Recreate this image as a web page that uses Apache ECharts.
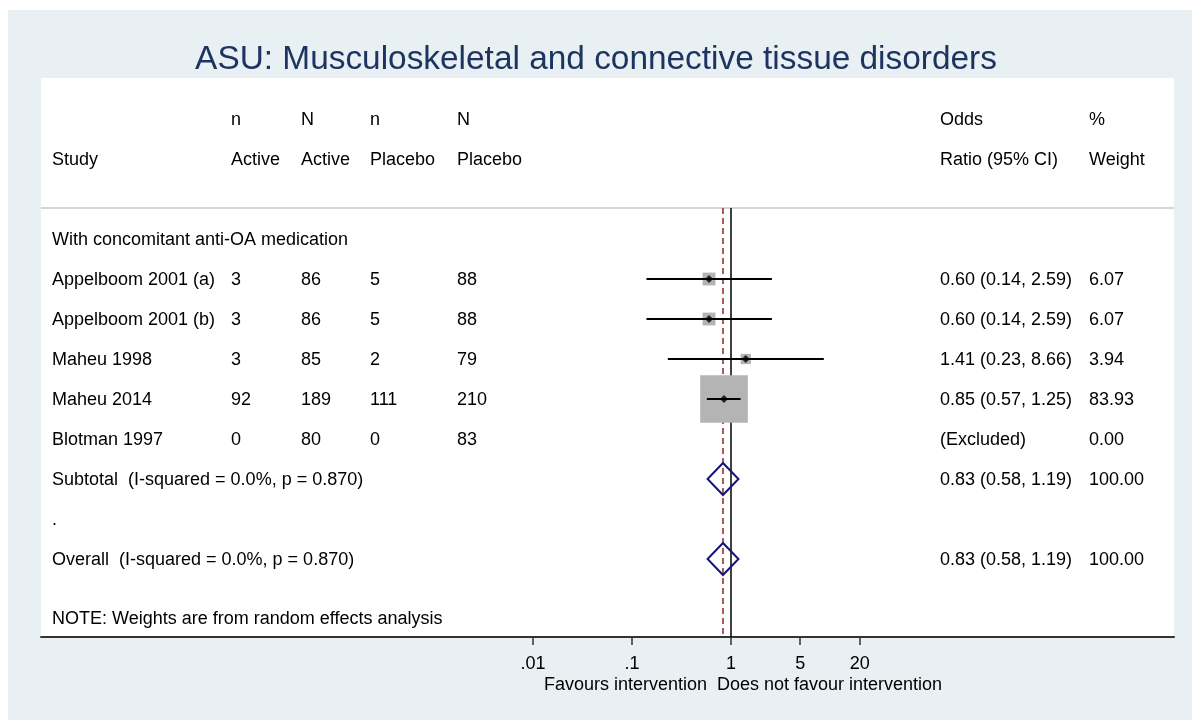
<!DOCTYPE html>
<html>
<head>
<meta charset="utf-8">
<script src="https://cdn.jsdelivr.net/npm/echarts@6/dist/echarts.min.js"></script>
<style>
html,body{margin:0;padding:0;background:#fff;}
#chart{width:1192px;height:720px;}
</style>
</head>
<body>
<div id="chart"></div>
<script>
// ---------------- data ----------------
const titleText = 'ASU: Musculoskeletal and connective tissue disorders';
const headerTop = ['', 'n', 'N', 'n', 'N', 'Odds', '%'];
const headerBottom = ['Study', 'Active', 'Active', 'Placebo', 'Placebo', 'Ratio (95% CI)', 'Weight'];
const groupLabel = 'With concomitant anti-OA medication';
const studies = ['Appelboom 2001 (a)', 'Appelboom 2001 (b)', 'Maheu 1998', 'Maheu 2014', 'Blotman 1997'];
const nActive = [3, 3, 3, 92, 0];
const NActive = [86, 86, 85, 189, 80];
const nPlacebo = [5, 5, 2, 111, 0];
const NPlacebo = [88, 88, 79, 210, 83];
const oddsRatio = [0.60, 0.60, 1.41, 0.85, null];
const ciLow = [0.14, 0.14, 0.23, 0.57, null];
const ciHigh = [2.59, 2.59, 8.66, 1.25, null];
const weight = [6.07, 6.07, 3.94, 83.93, 0.00];
const pooledLabels = ['Subtotal  (I-squared = 0.0%, p = 0.870)', 'Overall  (I-squared = 0.0%, p = 0.870)'];
const pooledOR = [0.83, 0.83];
const pooledLow = [0.58, 0.58];
const pooledHigh = [1.19, 1.19];
const pooledWeight = [100.00, 100.00];
const spacerLabel = '.';
const noteText = 'NOTE: Weights are from random effects analysis';
const xTickValues = [0.01, 0.1, 1, 5, 20];
const xTickLabels = ['.01', '.1', '1', '5', '20'];
const nullValue = 1;
const favoursLeft = 'Favours intervention';
const favoursRight = 'Does not favour intervention';

// ---------------- layout ----------------
const FONT = "'Liberation Sans', Arial, Helvetica, sans-serif";
const COLS = [52, 231, 301, 370, 457, 940, 1089];
const ROW_HEAD1 = 0, ROW_HEAD2 = 1, ROW_SEP = 2.225, ROW_GROUP = 3, ROW_STUDY0 = 4;
const ROW_SUB = 9, ROW_SPACER = 10, ROW_OVERALL = 11, ROW_NOTE = 12.475;
const Y_MIN = -1.025, Y_MAX = 12.95;
const X_LOG_MIN = -6.97, X_LOG_MAX = 4.475;
const BOX_SCALE = 5.2;
const DIAMOND_HALF = 16;
const TEXT_DY = 1;

const fmt2 = v => v.toFixed(2);
const orText = (o, l, h) => o == null ? '(Excluded)' : `${fmt2(o)} (${fmt2(l)}, ${fmt2(h)})`;

const tableRows = [];
tableRows.push({ row: ROW_HEAD1, cells: headerTop });
tableRows.push({ row: ROW_HEAD2, cells: headerBottom });
tableRows.push({ row: ROW_GROUP, cells: [groupLabel] });
studies.forEach((s, i) => {
  tableRows.push({ row: ROW_STUDY0 + i, cells: [s, nActive[i], NActive[i], nPlacebo[i], NPlacebo[i],
    orText(oddsRatio[i], ciLow[i], ciHigh[i]), fmt2(weight[i])] });
});
tableRows.push({ row: ROW_SUB, cells: [pooledLabels[0], '', '', '', '', orText(pooledOR[0], pooledLow[0], pooledHigh[0]), fmt2(pooledWeight[0])] });
tableRows.push({ row: ROW_SPACER, cells: [spacerLabel] });
tableRows.push({ row: ROW_OVERALL, cells: [pooledLabels[1], '', '', '', '', orText(pooledOR[1], pooledLow[1], pooledHigh[1]), fmt2(pooledWeight[1])] });
tableRows.push({ row: ROW_NOTE, cells: [noteText] });

const studyData = [];
studies.forEach((s, i) => {
  if (oddsRatio[i] != null) studyData.push([oddsRatio[i], ROW_STUDY0 + i, ciLow[i], ciHigh[i], weight[i]]);
});
const pooledData = [
  [pooledOR[0], ROW_SUB, pooledLow[0], pooledHigh[0]],
  [pooledOR[1], ROW_OVERALL, pooledLow[1], pooledHigh[1]]
];

const chart = echarts.init(document.getElementById('chart'), null, { renderer: 'canvas' });

const option = {
  animation: false,
  backgroundColor: '#ffffff',
  title: {
    text: titleText,
    left: 'center',
    top: 38,
    textStyle: { fontSize: 33.4, fontWeight: 'normal', color: '#1d3461', fontFamily: FONT }
  },
  grid: {
    left: 41, right: 18, top: 78, bottom: 83,
    show: true, backgroundColor: '#ffffff', borderWidth: 0,
    containLabel: false, outerBoundsMode: 'none'
  },
  xAxis: {
    type: 'log',
    logBase: 10,
    min: Math.pow(10, X_LOG_MIN),
    max: Math.pow(10, X_LOG_MAX),
    axisLine: { show: true, onZero: false, lineStyle: { color: '#333333', width: 2 } },
    axisTick: { show: true, customValues: xTickValues, length: 8, inside: false, lineStyle: { color: '#333333', width: 1.5 } },
    axisLabel: {
      show: true,
      customValues: xTickValues,
      margin: 18,
      fontSize: 18,
      color: '#000000',
      fontFamily: FONT,
      formatter: function (v) {
        const idx = xTickValues.findIndex(t => Math.abs(Math.log10(t) - Math.log10(v)) < 1e-6);
        return idx >= 0 ? xTickLabels[idx] : '';
      }
    },
    splitLine: { show: false },
    minorTick: { show: false },
    minorSplitLine: { show: false }
  },
  yAxis: {
    type: 'value',
    inverse: true,
    min: Y_MIN,
    max: Y_MAX,
    show: false,
    splitLine: { show: false }
  },
  graphic: [
    { type: 'rect', z: -10, silent: true, x: 8, y: 10, shape: { x: 0, y: 0, width: 1184, height: 710 }, style: { fill: '#e8f0f3' } },
    { type: 'text', silent: true, x: 707, y: 685, style: { text: favoursLeft, align: 'right', verticalAlign: 'middle', fontSize: 18, fontFamily: FONT, fill: '#000' } },
    { type: 'text', silent: true, x: 717, y: 685, style: { text: favoursRight, align: 'left', verticalAlign: 'middle', fontSize: 18, fontFamily: FONT, fill: '#000' } }
  ],
  series: [
    {
      name: 'table',
      type: 'custom',
      silent: true,
      clip: false,
      data: tableRows.map(r => [nullValue, r.row]),
      renderItem: function (params, api) {
        const tr = tableRows[params.dataIndex];
        const y = api.coord([nullValue, tr.row])[1] + TEXT_DY;
        const children = [];
        tr.cells.forEach((c, j) => {
          if (c === '' || c == null) return;
          children.push({
            type: 'text',
            style: { x: COLS[j], y: y, text: String(c), align: 'left', verticalAlign: 'middle', fontSize: 18, fontFamily: FONT, fill: '#000' }
          });
        });
        return { type: 'group', children: children };
      },
      z: 5
    },
    {
      name: 'studies',
      type: 'custom',
      silent: true,
      clip: false,
      data: studyData,
      encode: { x: [0, 2, 3], y: 1 },
      renderItem: function (params, api) {
        const row = api.value(1);
        const c = api.coord([api.value(0), row]);
        const a = api.coord([api.value(2), row]);
        const b = api.coord([api.value(3), row]);
        const side = BOX_SCALE * Math.sqrt(api.value(4));
        return {
          type: 'group',
          children: [
            { type: 'rect', shape: { x: c[0] - side / 2, y: c[1] - side / 2, width: side, height: side }, style: { fill: '#b4b4b4' } },
            { type: 'line', shape: { x1: a[0], y1: a[1], x2: b[0], y2: b[1] }, style: { stroke: '#000', lineWidth: 2 } }
          ]
        };
      },
      z: 6
    },
    {
      name: 'pooled',
      type: 'custom',
      silent: true,
      clip: false,
      data: pooledData,
      encode: { x: [0, 2, 3], y: 1 },
      renderItem: function (params, api) {
        const row = api.value(1);
        const c = api.coord([api.value(0), row]);
        const a = api.coord([api.value(2), row]);
        const b = api.coord([api.value(3), row]);
        return {
          type: 'polygon',
          shape: { points: [[a[0], a[1]], [c[0], c[1] - DIAMOND_HALF], [b[0], b[1]], [c[0], c[1] + DIAMOND_HALF]] },
          style: { fill: null, stroke: '#16167a', lineWidth: 2 }
        };
      },
      z: 7
    },
    {
      name: 'estimates',
      type: 'scatter',
      silent: true,
      data: studyData.map(d => [d[0], d[1]]),
      symbol: 'diamond',
      symbolSize: 8,
      itemStyle: { color: '#000' },
      z: 8,
      markLine: {
        silent: true,
        symbol: ['none', 'none'],
        label: { show: false },
        animation: false,
        data: [
          [{ yAxis: ROW_SEP, x: 41, lineStyle: { color: '#c8c8c8', width: 1.5, type: 'solid' } }, { yAxis: ROW_SEP, x: 1174 }],
          [{ coord: [pooledOR[1], ROW_SEP], lineStyle: { color: '#8b2525', width: 1.5, type: [6, 4] } }, { coord: [pooledOR[1], Y_MAX] }],
          [{ coord: [nullValue, ROW_SEP], lineStyle: { color: '#000', width: 1.5, type: 'solid' } }, { coord: [nullValue, Y_MAX] }]
        ]
      }
    }
  ]
};
chart.setOption(option);
</script>
</body>
</html>
